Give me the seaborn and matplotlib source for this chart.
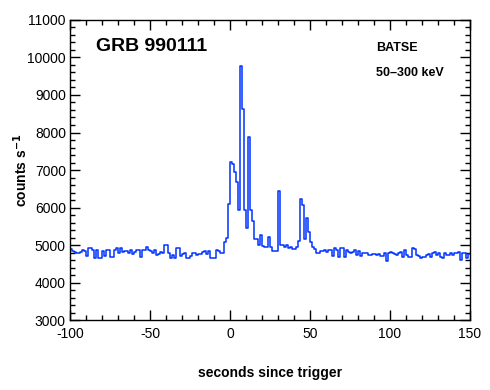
import numpy as np
import pandas as pd
import matplotlib.pyplot as plt
from matplotlib.ticker import MultipleLocator
import seaborn as sns

sns.set_theme(style="ticks")
plt.rcParams['font.family'] = ['Liberation Sans', 'DejaVu Sans']
plt.rcParams['text.color'] = 'black'
plt.rcParams['axes.labelcolor'] = 'black'
plt.rcParams['axes.unicode_minus'] = False

# -----------------------------------
# BATSE light curve, 1.25 s bins from -100 s to 150 s
# -----------------------------------

bin_width = 1.25
t_start = -100.0

pre_burst = [4890, 4850, 4805, 4800, 4778, 4822, 4860, 4850, 4700, 4929,
             4929, 4867, 4662, 4867, 4645, 4645, 4840, 4716, 4867, 4867,
             4689, 4689, 4867, 4911, 4778, 4929, 4822, 4840, 4840, 4778,
             4867, 4751, 4822, 4867, 4867, 4689, 4867, 4867, 4956,
             4870, 4840, 4800, 4870, 4730, 4760, 4820, 4780, 5000, 4990,
             4780, 4660, 4730, 4660, 4930, 4930, 4720, 4750, 4780, 4650,
             4650, 4720, 4780, 4780, 4740, 4760, 4760, 4820, 4840, 4760,
             4840, 4650, 4650, 4650, 4870, 4840, 4780, 4780, 5090, 5195]

burst = [6085, 7205, 7150, 6940, 6670, 5930, 9775, 8620, 5930, 5450,
         7870, 5930, 5650, 5150, 5150, 4990, 5260, 4975, 4960, 4960,
         5205, 4940, 4840, 4840, 4840, 6430, 5015, 4990, 4950, 4990,
         4920, 4950, 4890, 4890, 4950, 5120, 6220, 6070, 5160, 5710,
         5355]

post_burst = [5090, 4960, 4890, 4800, 4800, 4840, 4840, 4870, 4820, 4870,
              4870, 4720, 4910, 4870, 4690, 4910, 4930, 4690, 4870, 4820,
              4780, 4820, 4870, 4730, 4840, 4720, 4780, 4780, 4780, 4730,
              4730, 4750, 4750, 4730, 4750, 4710, 4710, 4780, 4580, 4780,
              4820, 4800, 4770, 4730, 4780, 4820, 4690, 4870, 4730, 4690,
              4690, 4910, 4890, 4730, 4720, 4650, 4690, 4690, 4730, 4750,
              4690, 4780, 4820, 4730, 4780, 4690, 4660, 4800, 4730, 4730,
              4800, 4730, 4780, 4780, 4820, 4600, 4800, 4800, 4660, 4760]

counts = np.array(pre_burst + burst + post_burst, dtype=float)
edges = t_start + bin_width * np.arange(len(counts) + 1)
# repeat last value so the final bin gets its full width with steps-post
df = pd.DataFrame({'time': edges, 'counts': np.append(counts, counts[-1])})

# -----------------------------------
# Plot
# -----------------------------------

fig = plt.figure(figsize=(4.9, 3.9), dpi=100)
ax = fig.add_axes([0.143, 0.179, 0.816, 0.770])

sns.lineplot(data=df, x='time', y='counts', drawstyle='steps-post',
             color='#0033ff', linewidth=1.1, estimator=None, ax=ax)

ax.set_xlim(-100, 150)
ax.set_ylim(3000, 11000)
ax.xaxis.set_major_locator(MultipleLocator(50))
ax.xaxis.set_minor_locator(MultipleLocator(10))
ax.yaxis.set_major_locator(MultipleLocator(1000))
ax.yaxis.set_minor_locator(MultipleLocator(200))
ax.tick_params(which='both', direction='in', top=True, right=True,
               color='black', width=1.0, labelsize=10, labelcolor='black')
ax.tick_params(which='major', length=7, pad=3)
ax.tick_params(axis='x', which='major', pad=5)
ax.tick_params(which='minor', length=3.5)
for sp in ax.spines.values():
    sp.set_visible(True)
    sp.set_color('black')
    sp.set_linewidth(1.0)

ax.set_xlabel('seconds since trigger', fontsize=10, fontweight='bold')
ax.set_ylabel('counts s$^{\\mathbf{-1}}$', fontsize=10, fontweight='bold')
ax.xaxis.set_label_coords(0.5, -0.153)
ax.xaxis.label.set_va('top')
ax.yaxis.set_label_coords(-0.10, 0.5)

ax.text(-83.75, 10280, 'GRB 990111', fontsize=14, fontweight='bold',
        va='center', ha='left')
ax.text(91.25, 10250, 'BATSE', fontsize=9, fontweight='bold',
        va='center', ha='left')
ax.text(91.25, 9590, '50\u2013300 keV', fontsize=9, fontweight='bold',
        va='center', ha='left')

fig.savefig('out.png', dpi=100, facecolor='white')
